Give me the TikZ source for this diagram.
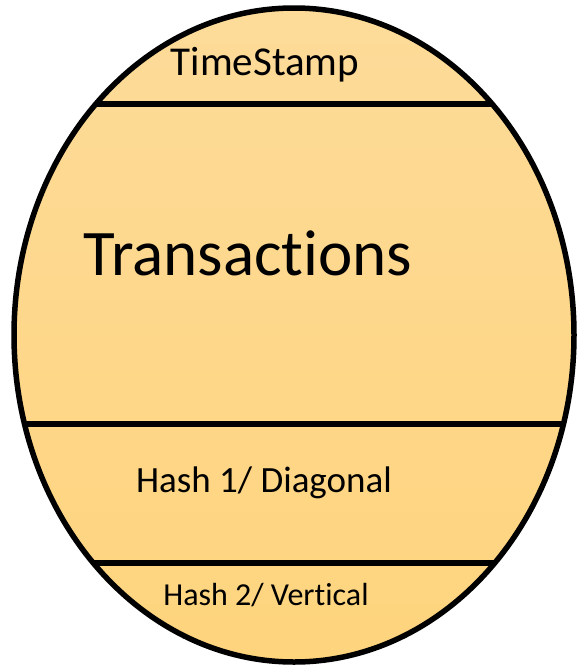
\documentclass[tikz,border=0pt]{standalone}
\usepackage{fontspec}
\setmainfont[Ligatures=NoCommon]{Carlito}
\usepackage{tikz}

\begin{document}
\begin{tikzpicture}[
  x=1pt, y=-1pt,
  block/.style={draw=black, line width=5.5pt, top color=blockTop, bottom color=blockBottom},
  divider/.style={draw=black, line width=5.5pt},
  label/.style={anchor=base, inner sep=0pt, text=black}
]
\definecolor{blockTop}{RGB}{253,219,153}
\definecolor{blockBottom}{RGB}{254,212,125}
\useasboundingbox (0,0) rectangle (577,667);

% the block itself
\path[block] (294,335) ellipse [x radius=280, y radius=327];

% field separators, clipped to the block outline
\begin{scope}
  \clip (294,335) ellipse [x radius=280, y radius=327];
  \draw[divider] (0,104) -- (577,104);
  \draw[divider] (0,424) -- (577,424);
  \draw[divider] (0,563) -- (577,563);
\end{scope}

\node[label, font=\fontsize{41}{48}\selectfont] (stamp) at (265,75) {TimeStamp};
\node[label, font=\fontsize{65}{76}\selectfont] (trans) at (248,275) {Transactions};
\node[label, font=\fontsize{37}{44}\selectfont] (hashA) at (264,492) {Hash 1/ Diagonal};
\node[label, font=\fontsize{32}{38}\selectfont] (hashB) at (266,605) {Hash 2/ Vertical};
\end{tikzpicture}
\end{document}
